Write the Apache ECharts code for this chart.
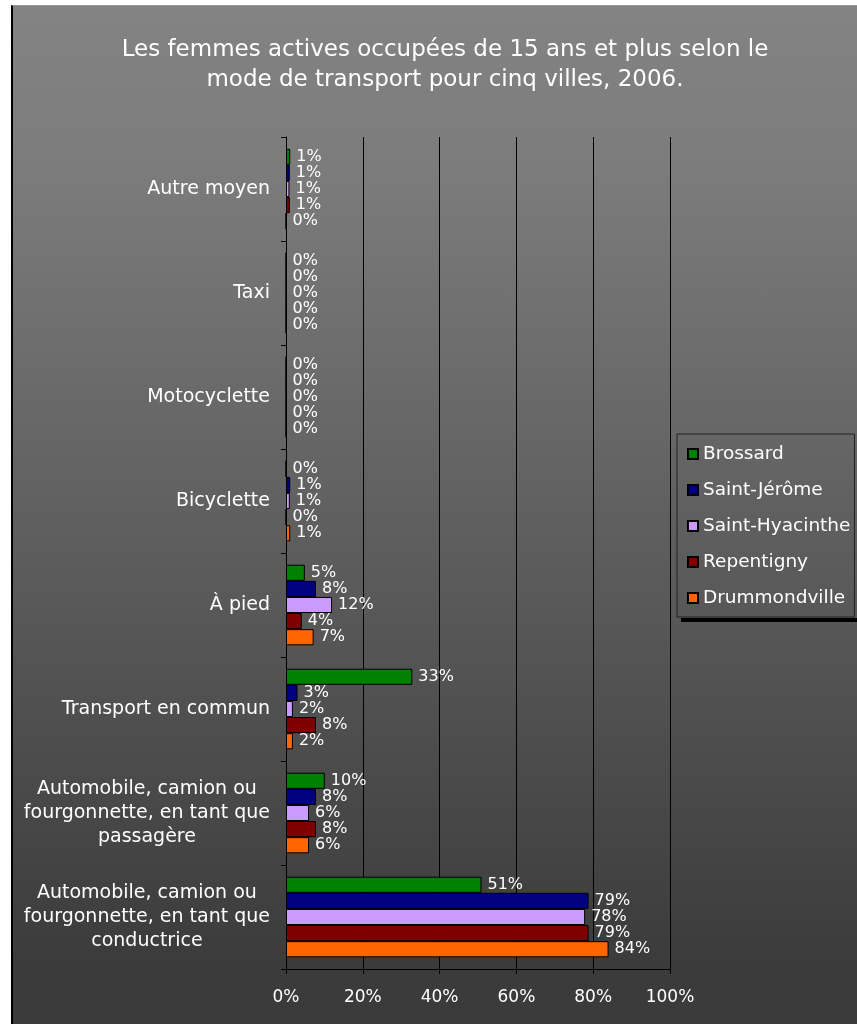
<!DOCTYPE html>
<html>
<head>
<meta charset="utf-8">
<script src="https://cdn.jsdelivr.net/npm/echarts@6/dist/echarts.min.js"></script>
<style>
html,body{margin:0;padding:0;background:#fff;overflow:hidden;width:857px;height:1024px;}
#frame{position:absolute;left:11px;top:5px;width:900px;height:1100px;border-left:2px solid #000;border-top:1px solid #999;
background:linear-gradient(to bottom,#838383 0px,#7c7c7c 160px,#606060 505px,#3b3b3b 960px,#3a3a3a 1100px);}
#chart{position:absolute;left:0;top:0;width:857px;height:1024px;}
</style>
</head>
<body>
<div id="frame"></div>
<div id="chart"></div>
<script>
const titleText = 'Les femmes actives occupées de 15 ans et plus selon le\nmode de transport pour cinq villes, 2006.';
const categories = [
  'Autre moyen',
  'Taxi',
  'Motocyclette',
  'Bicyclette',
  'À pied',
  'Transport en commun',
  'Automobile, camion ou\nfourgonnette, en tant que\npassagère',
  'Automobile, camion ou\nfourgonnette, en tant que\nconductrice'
];
const seriesNames = ['Brossard', 'Saint-Jérôme', 'Saint-Hyacinthe', 'Repentigny', 'Drummondville'];
const brossard       = [1.1, 0, 0, 0,   4.9, 32.9, 10.1, 50.9];
const saintJerome    = [1.0, 0, 0, 1.1, 7.8, 3.0,  7.8,  78.8];
const saintHyacinthe = [0.9, 0, 0, 1.0, 12.0, 1.8, 6.0,  77.9];
const repentigny     = [1.0, 0, 0, 0,   4.1, 7.8,  7.8,  78.8];
const drummondville  = [0,   0, 0, 1.1, 7.2, 1.8,  6.0,  84.0];
const xTicks = [0, 20, 40, 60, 80, 100];

const seriesData = [brossard, saintJerome, saintHyacinthe, repentigny, drummondville];
const colors = ['#008000', '#000080', '#cc99ff', '#800000', '#ff6600'];
const FONT = 'DejaVu Sans';

const chart = echarts.init(document.getElementById('chart'), null, {renderer: 'canvas'});
chart.setOption({
  backgroundColor: 'transparent',
  animation: false,
  title: {
    text: titleText,
    left: 440,
    textAlign: 'center',
    top: 30,
    textStyle: {color: '#fff', fontFamily: FONT, fontSize: 23, fontWeight: 'normal', lineHeight: 30}
  },
  legend: {
    data: seriesNames,
    orient: 'vertical',
    left: 677,
    top: 434,
    padding: [10, 4, 9, 10],
    itemGap: 16,
    itemWidth: 10,
    itemHeight: 10,
    icon: 'rect',
    borderColor: '#222',
    borderWidth: 1,
    textStyle: {color: '#fff', fontFamily: FONT, fontSize: 18.5, lineHeight: 20}
  },
  graphic: [{
    type: 'rect', shape: {x: 681, y: 618, width: 180, height: 4}, style: {fill: '#000'}, silent: true, z: 0
  }],
  grid: {left: 286, right: 187, top: 137, bottom: 55, containLabel: false},
  xAxis: {
    type: 'value',
    min: xTicks[0],
    max: xTicks[xTicks.length - 1],
    interval: 20,
    axisLine: {show: true, lineStyle: {color: '#000', width: 1}},
    axisTick: {show: true, length: 5, lineStyle: {color: '#000'}},
    splitLine: {show: true, lineStyle: {color: '#000', width: 1}},
    axisLabel: {color: '#fff', fontFamily: FONT, fontSize: 17, margin: 20, formatter: '{value}%'}
  },
  yAxis: {
    type: 'category',
    inverse: true,
    data: categories,
    axisLine: {show: true, lineStyle: {color: '#000', width: 1}},
    axisTick: {show: true, length: 5, lineStyle: {color: '#000'}},
    axisLabel: {
      margin: 16,
      color: '#fff',
      formatter: v => v.split('\n').map(l => '{c|' + l + '}').join('\n'),
      rich: {c: {align: 'center', color: '#fff', fontFamily: FONT, fontSize: 19, lineHeight: 24}}
    }
  },
  series: seriesNames.map((name, i) => ({
    name: name,
    type: 'bar',
    data: seriesData[i],
    barGap: '0%',
    barCategoryGap: '22.5%',
    itemStyle: {color: colors[i], borderColor: '#000', borderWidth: 1},
    label: {
      show: true,
      position: 'right',
      distance: 6,
      color: '#fff',
      fontFamily: FONT,
      fontSize: 16,
      formatter: p => Math.round(p.value) + '%'
    }
  }))
});
</script>
</body>
</html>
